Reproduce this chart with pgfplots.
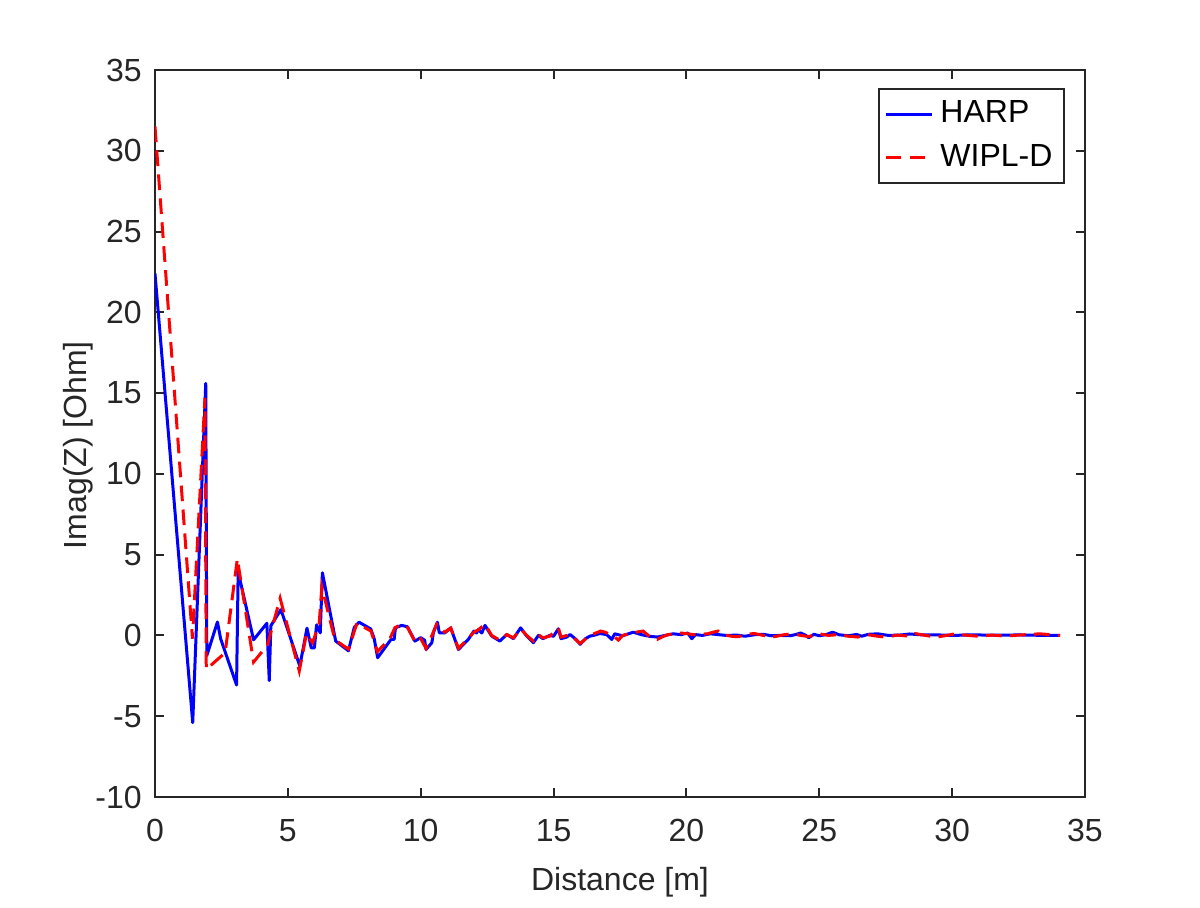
\documentclass[border=0pt]{standalone}
\usepackage{pgfplots}
\pgfplotsset{compat=1.18}
\usepackage{fontspec}
\setmainfont{Liberation Sans}

\definecolor{axgray}{gray}{0.15}

% HARP solver result
\pgfplotstableread{
x y
0 22.4
1.42 -5.4
1.91 15.6
1.95 -1.25
2.35 0.83
2.47 -0.2
3.07 -3.07
3.13 3.95
3.71 -0.27
4.21 0.75
4.30 -2.8
4.36 0.6
4.74 1.6
5.45 -1.9
5.72 0.45
5.88 -0.77
6.0 -0.77
6.08 0.65
6.22 0.16
6.30 3.88
6.80 -0.35
7.28 -0.95
7.5 0.5
7.68 0.82
8.12 0.4
8.25 -0.2
8.38 -1.38
8.88 -0.25
9.0 -0.25
9.05 0.47
9.28 0.62
9.5 0.54
9.78 -0.35
10.0 -0.14
10.15 -0.3
10.2 -0.87
10.42 -0.45
10.48 0.2
10.63 0.82
10.7 0.16
10.91 0.16
11.13 0.47
11.42 -0.87
11.79 -0.25
12.0 0.27
12.1 0.15
12.17 0.37
12.3 0.15
12.42 0.62
12.67 -0.04
12.98 -0.35
13.24 0.06
13.49 -0.2
13.76 0.47
13.99 -0.04
14.24 -0.45
14.43 0.0
14.6 -0.2
14.85 0.0
15.0 -0.05
15.18 0.41
15.28 -0.2
15.5 -0.1
15.62 0.06
15.85 -0.25
16.0 -0.55
16.2 -0.2
16.37 -0.04
16.5 0.0
16.75 0.12
17.0 0.05
17.19 -0.25
17.3 0.1
17.6 -0.02
18.0 0.2
18.3 0.05
18.6 -0.05
18.9 -0.1
19.2 0.0
19.5 0.1
19.8 0.05
20.05 0.15
20.2 -0.2
20.35 0.05
20.6 0.0
20.9 0.1
21.2 0.05
21.5 0.0
21.9 0.02
22.2 -0.05
22.6 0.05
22.9 0.07
23.2 -0.02
23.5 0.0
23.9 -0.02
24.1 0.05
24.3 0.15
24.5 0.0
24.6 -0.14
24.8 0.07
25.0 -0.02
25.25 0.05
25.5 0.2
25.75 0.04
26.1 -0.02
26.4 0.06
26.6 -0.05
26.85 0.07
27.2 0.1
27.6 0.0
28.1 0.03
28.4 0.09
28.9 0.03
29.5 0.03
30.1 0.0
30.7 0.04
31.3 0.02
31.9 0.02
32.5 0.03
33.2 0.01
34.06 0.0
}\harp

% WIPL-D solver result
\pgfplotstableread{
x y
0 31.5
1.41 -0.2
1.88 14.7
1.93 -2.1
2.64 -1.07
3.1 4.75
3.71 -1.65
4.23 -0.6
4.71 2.3
5.43 -2.2
5.7 0.1
5.93 -0.45
6.18 0.75
6.28 3.0
6.77 -0.27
7.28 -0.85
7.6 0.75
8.13 0.27
8.37 -1.0
8.84 -0.2
9.03 0.48
9.26 0.67
9.5 0.5
9.76 -0.3
9.95 -0.05
10.2 -0.8
10.45 0.1
10.6 0.7
10.9 0.2
11.13 0.45
11.42 -0.8
11.79 -0.2
12.0 0.2
12.17 0.35
12.42 0.7
12.67 0.0
12.98 -0.3
13.24 0.05
13.49 -0.15
13.76 0.4
13.99 0.0
14.24 -0.35
14.43 0.05
14.6 -0.15
14.85 -0.05
15.18 0.45
15.28 -0.1
15.62 0.05
16.0 -0.5
16.37 0.0
16.77 0.27
16.95 0.2
17.1 0.05
17.3 -0.1
17.44 -0.29
17.6 0.0
18.1 0.2
18.37 0.27
18.6 -0.05
18.9 -0.25
19.1 -0.08
19.3 0.05
19.8 0.15
20.3 0.05
20.8 0.1
21.0 0.2
21.19 0.27
21.35 0.05
21.7 -0.05
21.95 -0.08
22.2 0.05
22.55 0.12
22.9 0.0
23.3 -0.08
23.7 0.05
24.0 0.1
24.3 0.0
24.6 -0.07
25.0 0.1
25.35 0.0
25.7 0.05
26.1 -0.05
26.45 -0.1
26.8 0.05
27.2 -0.05
27.5 -0.1
27.95 0.02
28.4 -0.05
28.6 0.12
29.0 0.0
29.4 -0.1
29.8 0.0
30.1 0.1
30.6 0.0
31.0 -0.05
31.5 0.02
32.0 -0.04
32.5 0.02
33.3 0.1
34.06 0.0
}\wipl

\begin{document}
\fontsize{9.6}{11.5}\selectfont
\begin{tikzpicture}
% page extent
\path (-46.5pt,-30.9pt) rectangle (313.5pt,239.1pt);
\begin{axis}[
  at={(0,0)}, anchor=south west,
  scale only axis,
  width=279pt, height=218.1pt,
  xmin=0, xmax=35, ymin=-10, ymax=35,
  xtick={0,5,...,35}, ytick={-10,-5,...,35},
  tick align=inside,
  major tick length=2.7pt,
  axis line style={axgray, line width=0.6pt},
  every tick/.style={axgray, line width=0.6pt},
  tick label style={font=\fontsize{9.6}{11.5}\selectfont, text=axgray},
  /pgf/number format/assume math mode=true,
  xticklabel style={yshift=-3.2pt},
  yticklabel style={xshift=-0.6pt},
  label style={font=\fontsize{9.6}{11.5}\selectfont, text=axgray},
  xlabel={Distance [m]},
  ylabel={Imag(Z) [Ohm]},
  xlabel style={at={(axis description cs:0.5,-0.1169)}, anchor=center},
  ylabel style={at={(axis description cs:-0.0828,0.484)}, anchor=center},
  legend style={
    at={(1,1)}, anchor=north east, xshift=-6pt, yshift=-5.4pt,
    draw=axgray, line width=0.5pt,
    font=\fontsize{9.6}{11.5}\selectfont,
    inner xsep=1.5pt, inner ysep=1.6pt,
    row sep=1.0pt,
    cells={anchor=west},
  },
  legend image code/.code={\draw[#1] (0pt,0pt) -- (14pt,0pt);},
]
\addplot[blue, line width=0.9pt, line join=round] table {\harp};
\addlegendentry{HARP}
\addplot[red, line width=0.9pt, dash pattern=on 4.7pt off 2.5pt] table {\wipl};
\addlegendentry{WIPL-D}
\end{axis}
\end{tikzpicture}
\end{document}
